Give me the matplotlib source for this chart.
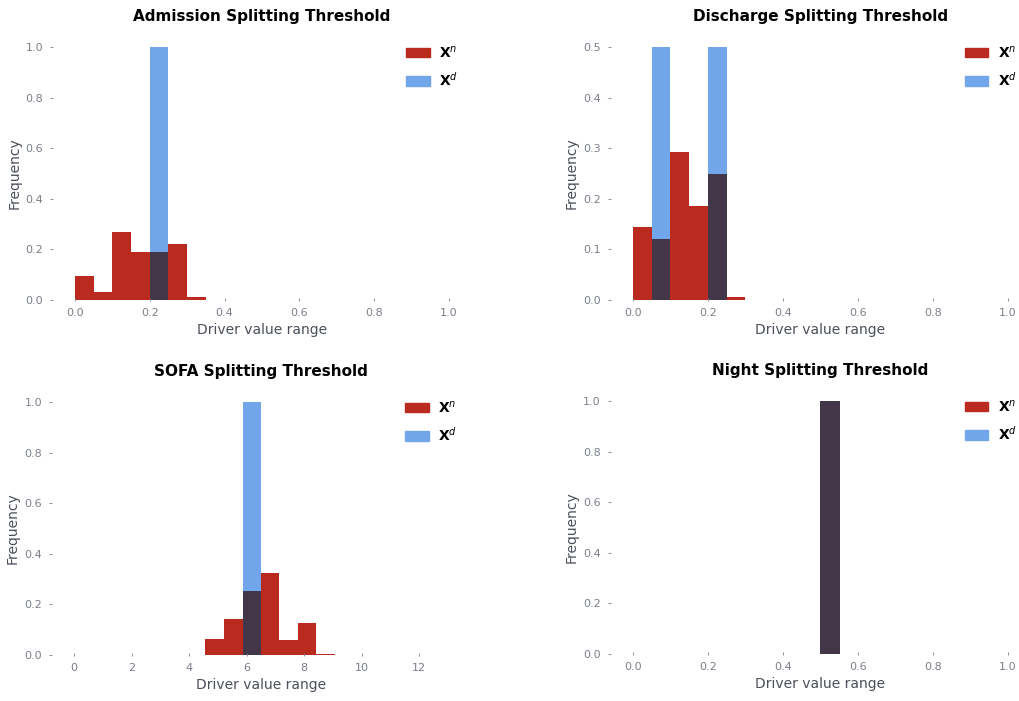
import numpy as np
import matplotlib
matplotlib.use('Agg')
import matplotlib.pyplot as plt
import matplotlib.patches as mpatches

# bin edges and normalised frequencies
adm_edges = [0.0, 0.05, 0.10, 0.15, 0.20, 0.25, 0.30, 0.35]
adm_n = [0.095, 0.03, 0.27, 0.19, 0.19, 0.22, 0.01]
adm_d = [0.0, 0.0, 0.0, 0.0, 1.0, 0.0, 0.0]

dis_edges = [0.0, 0.05, 0.10, 0.15, 0.20, 0.25, 0.30]
dis_n = [0.144, 0.121, 0.293, 0.186, 0.249, 0.005]
dis_d = [0.0, 0.5, 0.0, 0.0, 0.5, 0.0]

sofa_edges = [4.57, 5.21, 5.86, 6.50, 7.14, 7.79, 8.43, 9.07]
sofa_n = [0.065, 0.144, 0.252, 0.325, 0.06, 0.125, 0.004]
sofa_d = [0.0, 0.0, 1.0, 0.0, 0.0, 0.0, 0.0]

night_edges = [0.50, 0.553]
night_n = [1.0]
night_d = [1.0]

titles = ['Admission Splitting Threshold', 'Discharge Splitting Threshold',
          'SOFA Splitting Threshold', 'Night Splitting Threshold']
xlims = [(0, 1.0), (0, 1.0), (0, 13), (0, 1.0)]
ylims = [(0, 1.0), (0, 0.5), (0, 1.0), (0, 1.0)]
xticks = [[0, 0.2, 0.4, 0.6, 0.8, 1.0], [0, 0.2, 0.4, 0.6, 0.8, 1.0],
          [0, 2, 4, 6, 8, 10, 12], [0, 0.2, 0.4, 0.6, 0.8, 1.0]]
yticks = [[0, 0.2, 0.4, 0.6, 0.8, 1.0], [0, 0.1, 0.2, 0.3, 0.4, 0.5],
          [0, 0.2, 0.4, 0.6, 0.8, 1.0], [0, 0.2, 0.4, 0.6, 0.8, 1.0]]
data = [(adm_edges, adm_n, adm_d), (dis_edges, dis_n, dis_d),
        (sofa_edges, sofa_n, sofa_d), (night_edges, night_n, night_d)]

red = '#bb2a1e'
blue = '#72a6ea'
dark = '#433649'
tick_col = '#7a7f8a'

fig = plt.figure(figsize=(10.19, 7.01), dpi=100)
positions = [[0.0736, 0.572, 0.367, 0.361], [0.621, 0.572, 0.368, 0.361],
             [0.0726, 0.0656, 0.367, 0.361], [0.621, 0.0670, 0.368, 0.361]]

for i in range(4):
    ax = fig.add_axes(positions[i])
    edges, n, d = data[i]
    edges = np.array(edges)
    n = np.array(n)
    d = np.array(d)
    w = np.diff(edges)
    ax.bar(edges[:-1], n, width=w, align='edge', color=red, linewidth=0)
    ax.bar(edges[:-1], d, width=w, align='edge', color=blue, linewidth=0)
    ax.bar(edges[:-1], np.minimum(n, d), width=w, align='edge', color=dark, linewidth=0)

    ax.set_xlim(*xlims[i])
    ax.set_ylim(*ylims[i])
    ax.set_xticks(xticks[i])
    ax.set_yticks(yticks[i])
    if i == 2:
        ax.set_xticklabels([str(t) for t in xticks[i]])
    else:
        ax.set_xticklabels(['%.1f' % t for t in xticks[i]])
    ax.set_yticklabels(['%.1f' % t for t in yticks[i]])
    # ticks sit away from the data area, spines hidden
    ax.spines['left'].set_position(('outward', 16))
    ax.spines['bottom'].set_position(('outward', 1))
    for s in ax.spines.values():
        s.set_visible(False)
    ax.tick_params(axis='both', colors=tick_col, labelsize=8, length=2, width=0.6)
    ax.tick_params(axis='y', pad=5)
    ax.tick_params(axis='x', direction='in', pad=5)
    ax.set_title(titles[i], fontsize=11, fontweight='semibold', pad=19)
    ax.set_xlabel('Driver value range', fontsize=10, color='#4a4f5a', labelpad=3)
    ax.set_ylabel('Frequency', fontsize=10, color='#4a4f5a', labelpad=3)

    handles = [mpatches.Patch(color=red, label=r'$\mathbf{X}^{n}$'),
               mpatches.Patch(color=blue, label=r'$\mathbf{X}^{d}$')]
    ax.legend(handles=handles, loc='upper left', bbox_to_anchor=(0.885, 1.01),
              frameon=False, fontsize=10, handlelength=1.7, handleheight=0.7,
              labelspacing=0.75, handletextpad=0.7, borderpad=0, borderaxespad=0)

fig.savefig('out.png', dpi=100)
